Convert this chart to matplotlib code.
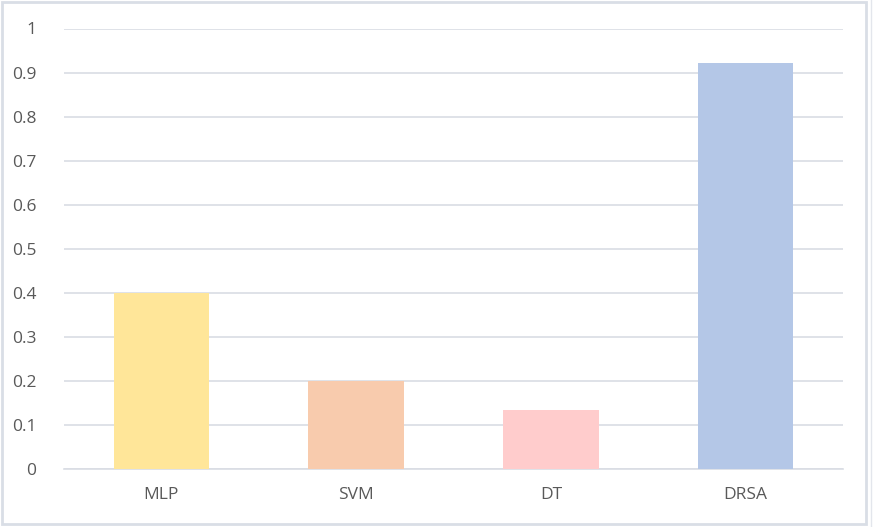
import matplotlib
matplotlib.use("Agg")
import matplotlib.pyplot as plt
from matplotlib.patches import Rectangle
from matplotlib.lines import Line2D

categories = ["MLP", "SVM", "DT", "DRSA"]
values = [0.40, 0.20, 0.133, 0.922]
colors = ["#FFE699", "#F8CBAD", "#FFCCCC", "#B4C7E7"]
yticks = [0, 0.1, 0.2, 0.3, 0.4, 0.5, 0.6, 0.7, 0.8, 0.9, 1]
ytick_labels = ["0", "0.1", "0.2", "0.3", "0.4", "0.5", "0.6", "0.7", "0.8", "0.9", "1"]

W, H = 873, 527
fig = plt.figure(figsize=(W / 100, H / 100), dpi=100)
fig.patch.set_facecolor("white")

left, right, top, bottom = 64, 843, 28.5, 469
ax = fig.add_axes([left / W, 1 - bottom / H, (right - left) / W, (bottom - top) / H])

x = list(range(len(categories)))
ax.bar(x, values, width=0.49, color=colors, zorder=3)
ax.set_xlim(-0.5, len(categories) - 0.5)
ax.set_ylim(0, 1)
ax.set_yticks(yticks)
ax.set_yticklabels(ytick_labels)
ax.set_xticks(x)
ax.set_xticklabels(categories)
ax.yaxis.grid(True, color="#D9DDE4", linewidth=1.2, zorder=0)
ax.set_axisbelow(True)
for s in ["top", "right", "left"]:
    ax.spines[s].set_visible(False)
ax.spines["bottom"].set_color("#D9DDE4")
ax.spines["bottom"].set_linewidth(1.2)
ax.tick_params(axis="both", length=0, labelsize=12.5, labelcolor="#595959")
ax.tick_params(axis="y", pad=20)
ax.tick_params(axis="x", pad=13)
for lab in ax.get_xticklabels() + ax.get_yticklabels():
    lab.set_fontfamily(["Open Sans", "DejaVu Sans"])

# outer chart border
fig.patches.append(Rectangle((1.5 / W, 1 - 524 / H), (866 - 1.5) / W, (524 - 2) / H,
                             transform=fig.transFigure, fill=False,
                             edgecolor="#D9DEE6", linewidth=2))
fig.lines.append(Line2D([871 / W, 871 / W], [0, 1], transform=fig.transFigure,
                        color="#E3E6EC", linewidth=1))

fig.savefig("out.png", dpi=100)
